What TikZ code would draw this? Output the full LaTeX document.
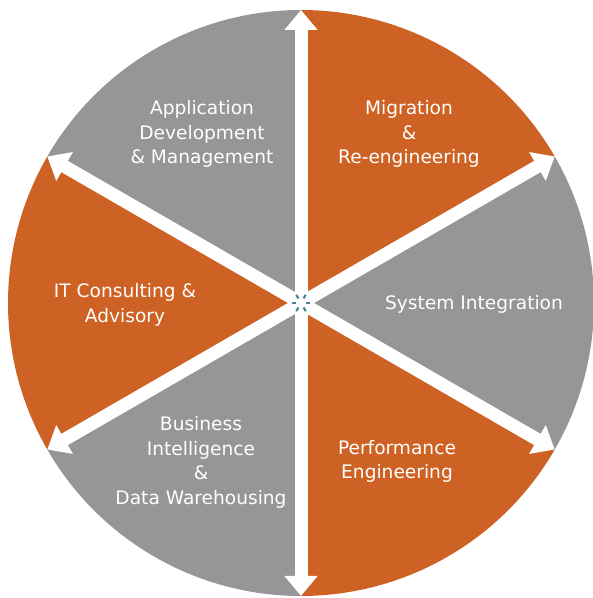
\documentclass[tikz,border=0pt]{standalone}
\usepackage{fontspec}
\setmainfont{DejaVu Sans}
\usetikzlibrary{arrows.meta}
\definecolor{sectorOrange}{RGB}{205,98,36}
\definecolor{sectorGray}{RGB}{151,149,149}
\definecolor{dotTeal}{RGB}{64,134,150}
\begin{document}
\begin{tikzpicture}[x=0.75pt,y=0.75pt,
  orangeslice/.style={fill=sectorOrange},
  grayslice/.style={fill=sectorGray},
  spoke/.style={draw=white, line width=9.75pt,
    {Triangle[width=24pt,length=15pt]}-{Triangle[width=24pt,length=15pt]}},
  seglabel/.style={text=white, align=center, inner sep=0pt,
    font=\fontsize{13.95}{18.4}\selectfont},
  centertick/.style={draw=dotTeal, line width=1.6pt}]
\useasboundingbox (0,0) rectangle (592,598);
\def\R{219.75pt}
\coordinate (C) at (301,295);
% sectors
\fill[orangeslice] (C) -- ++(90:\R) arc[start angle=90,end angle=30,radius=\R] -- cycle;
\fill[grayslice] (C) -- ++(30:\R) arc[start angle=30,end angle=-30,radius=\R] -- cycle;
\fill[orangeslice] (C) -- ++(-30:\R) arc[start angle=-30,end angle=-90,radius=\R] -- cycle;
\fill[grayslice] (C) -- ++(-90:\R) arc[start angle=-90,end angle=-150,radius=\R] -- cycle;
\fill[orangeslice] (C) -- ++(210:\R) arc[start angle=210,end angle=150,radius=\R] -- cycle;
\fill[grayslice] (C) -- ++(150:\R) arc[start angle=150,end angle=90,radius=\R] -- cycle;
% arrow tips
\path (C) ++(90:\R) coordinate (t90);
\path (C) ++(270:\R) coordinate (t270);
\path (C) ++(30:\R) coordinate (t30);
\path (C) ++(210:\R) coordinate (t210);
\path (C) ++(150:\R) coordinate (t150);
\path (C) ++(330:\R) coordinate (t330);
\draw[spoke] (t270) -- (t90);
\draw[spoke] (t210) -- (t30);
\draw[spoke] (t330) -- (t150);
% center ticks
\foreach \a in {0,60,...,300}{
  \draw[centertick] (C) ++(\a:3.9pt) -- ++(\a:3.2pt);
}
% labels
\node[seglabel] (mig) at (409,464) {Migration\\\&\\Re-engineering};
\node[seglabel] (app) at (202,464) {Application\\Development\\\& Management};
\node[seglabel] (sys) at (474,294) {System Integration};
\node[seglabel] (itc) at (125,293) {IT Consulting \&\\Advisory};
\node[seglabel] (perf) at (397,136.5) {Performance\\Engineering};
\node[seglabel] (bi) at (201,135.5) {Business\\Intelligence\\\&\\Data Warehousing};
\end{tikzpicture}
\end{document}
